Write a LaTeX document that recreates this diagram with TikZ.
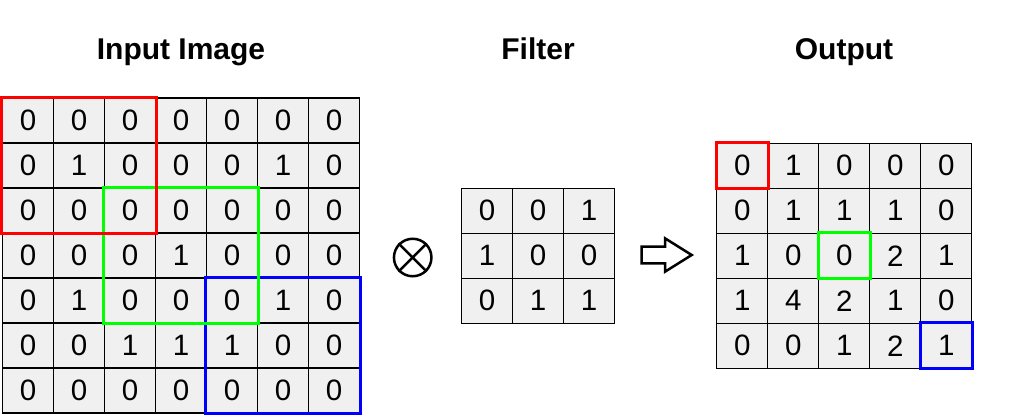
\documentclass[tikz,border=0pt]{standalone}
\usepackage{fontspec}
\setmainfont{Liberation Sans}
\definecolor{cellgray}{RGB}{240,240,240}
\definecolor{winred}{RGB}{255,0,0}
\definecolor{wingreen}{RGB}{0,255,0}
\definecolor{winblue}{RGB}{0,0,255}
\begin{document}
\begin{tikzpicture}[x=1pt,y=-1pt,
  cell/.style={draw=black, line width=1.1pt, fill=cellgray, minimum width=51pt, minimum height=45pt, inner sep=0pt, font=\fontsize{29.5}{31}\selectfont},
  title/.style={font=\fontsize{30}{33}\selectfont\bfseries, anchor=base, inner sep=0pt},
  win/.style={line width=3pt}]
\useasboundingbox (0,0) rectangle (1021,416);
% titles
\node[title] (t-in) at (181,59) {Input Image};
\node[title] (t-f) at (538,59) {Filter};
\node[title] (t-out) at (844,59) {Output};
% input
\foreach \row [count=\r from 0] in {{0,0,0,0,0,0,0},{0,1,0,0,0,1,0},{0,0,0,0,0,0,0},{0,0,0,1,0,0,0},{0,1,0,0,0,1,0},{0,0,1,1,1,0,0},{0,0,0,0,0,0,0}}{
  \foreach \v [count=\c from 0] in \row {
    \node[cell] (in-\r-\c) at ({28+51*\c},{120.5+45*\r}) {\raisebox{-1.5pt}{\v}};
  }
}
% filter
\foreach \row [count=\r from 0] in {{0,0,1},{1,0,0},{0,1,1}}{
  \foreach \v [count=\c from 0] in \row {
    \node[cell] (f-\r-\c) at ({487+51*\c},{210.8+45*\r}) {\raisebox{-1.5pt}{\v}};
  }
}
% output
\foreach \row [count=\r from 0] in {{0,1,0,0,0},{0,1,1,1,0},{1,0,0,2,1},{1,4,2,1,0},{0,0,1,2,1}}{
  \foreach \v [count=\c from 0] in \row {
    \node[cell] (out-\r-\c) at ({742.2+51*\c},{165.8+45*\r}) {\raisebox{-1.5pt}{\v}};
  }
}
% windows
\draw[win, winblue] (in-4-4.north west) rectangle (in-6-6.south east);
\draw[win, wingreen] (in-2-2.north west) rectangle (in-4-4.south east);
\draw[win, winred] (in-0-0.north west) rectangle (in-2-2.south east);
\draw[win, winred] (out-0-0.north west) rectangle (out-0-0.south east);
\draw[win, wingreen] (out-2-2.north west) rectangle (out-2-2.south east);
\draw[win, winblue] (out-4-4.north west) rectangle (out-4-4.south east);
% otimes
\node[draw, circle, line width=2.5pt, minimum size=37.5pt, inner sep=0pt] (otimes) at (412.7,257.5) {};
\draw[line width=2.5pt] (otimes.north west) -- (otimes.south east)
  (otimes.north east) -- (otimes.south west);
% arrow
\coordinate (arrowtail) at (641.7,255);
\draw[line width=2.5pt] (arrowtail) ++(0,-8.3) -- ++(23.3,0) -- ++(0,-8.4) -- ++(26.7,16.7) -- ++(-26.7,16.7) -- ++(0,-8.4) -- ++(-23.3,0) -- cycle;
\end{tikzpicture}
\end{document}
